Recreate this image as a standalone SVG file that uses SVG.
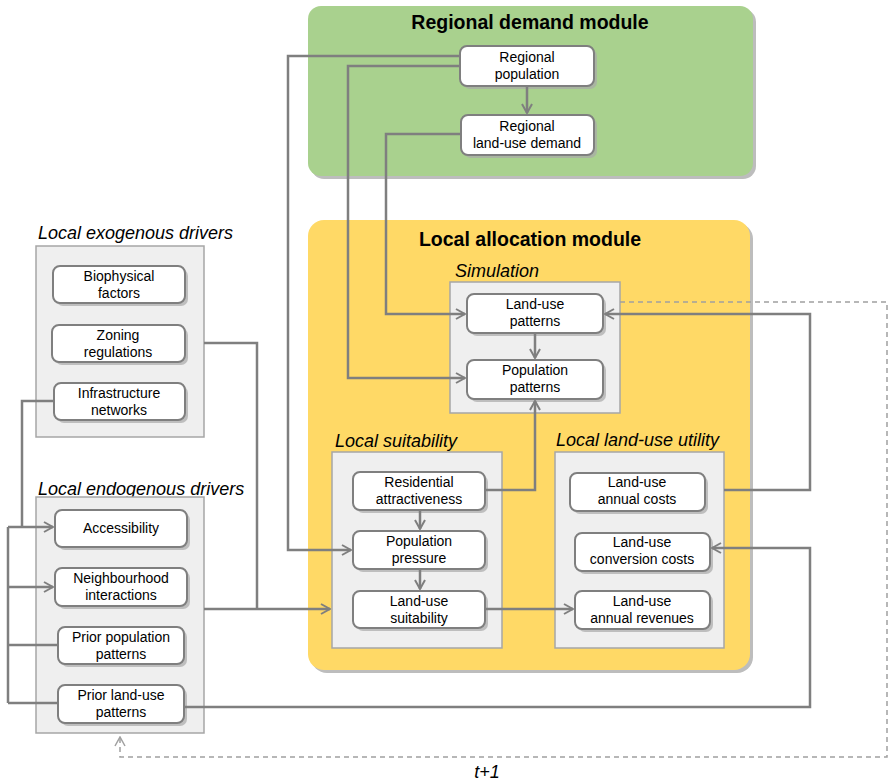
<svg xmlns="http://www.w3.org/2000/svg" width="889" height="783" viewBox="0 0 889 783">
<style>
.mod{stroke:none}
.sh{fill:#bdbdbd}
.cont{fill:#efefef;stroke:#a6a6a6;stroke-width:1.5}
.node{fill:#ffffff;stroke:#7f7f7f;stroke-width:2}
.nsh{fill:#a9a9a9;opacity:0.7}
.nt{font-family:"Liberation Sans",Arial,sans-serif;font-size:14px;fill:#000;text-anchor:middle}
.title{font-family:"Liberation Sans",Arial,sans-serif;font-size:19.5px;font-weight:bold;fill:#000;text-anchor:middle}
.lab{font-family:"Liberation Sans",Arial,sans-serif;font-size:18px;font-style:italic;fill:#000}
.c{fill:none;stroke:#7f7f7f;stroke-width:2.5}
.d{fill:none;stroke:#a0a0a0;stroke-width:1.5;stroke-dasharray:5 4}
</style>
<defs>
<marker id="arr" viewBox="0 0 12 12" refX="11" refY="6" markerWidth="12" markerHeight="12" markerUnits="userSpaceOnUse" orient="auto">
<path d="M2,1 L11,6 L2,11" fill="none" stroke="#7f7f7f" stroke-width="2"/>
</marker>
<marker id="arrd" viewBox="0 0 12 12" refX="11" refY="6" markerWidth="12" markerHeight="12" markerUnits="userSpaceOnUse" orient="auto">
<path d="M2,1 L11,6 L2,11" fill="none" stroke="#a0a0a0" stroke-width="1.5"/>
</marker>
</defs>
<rect width="889" height="783" fill="#ffffff"/>

<g id="regional-demand-module">
<rect class="sh" x="311" y="9" width="445" height="170" rx="13"/>
<rect x="308" y="6" width="445" height="170" rx="13" fill="#a9d18e"/>
<text class="title" x="530" y="29">Regional demand module</text>
</g>

<g id="local-allocation-module">
<rect class="sh" x="311" y="223" width="442" height="450" rx="16"/>
<rect x="308" y="220" width="442" height="450" rx="16" fill="#ffd966"/>
<text class="title" x="530" y="246">Local allocation module</text>
</g>

<g id="simulation">
<text class="lab" x="455" y="277">Simulation</text>
<rect class="cont" x="450" y="282" width="170" height="131"/>
</g>
<g id="local-suitability">
<text class="lab" x="335" y="447">Local suitability</text>
<rect class="cont" x="332" y="452" width="170" height="196"/>
</g>
<g id="local-land-use-utility">
<text class="lab" x="556" y="446">Local land-use utility</text>
<rect class="cont" x="555" y="452" width="169" height="196"/>
</g>
<g id="local-exogenous-drivers">
<text class="lab" x="38" y="239">Local exogenous drivers</text>
<rect class="cont" x="36" y="246" width="168" height="191"/>
</g>
<g id="local-endogenous-drivers">
<text class="lab" x="38" y="495">Local endogenous drivers</text>
<rect class="cont" x="36" y="497" width="168" height="236"/>
</g>

<g id="regional-population">
<rect class="nsh" x="463" y="49" width="134" height="40" rx="7"/>
<rect class="node" x="460" y="46" width="134" height="40" rx="7"/>
<text class="nt" x="527" y="62">Regional</text>
<text class="nt" x="527" y="79">population</text>
</g>
<g id="regional-land-use-demand">
<rect class="nsh" x="464" y="118" width="133" height="40" rx="7"/>
<rect class="node" x="461" y="115" width="133" height="40" rx="7"/>
<text class="nt" x="527" y="131">Regional</text>
<text class="nt" x="527" y="148">land-use demand</text>
</g>
<g id="land-use-patterns">
<rect class="nsh" x="470" y="297" width="136" height="39" rx="7"/>
<rect class="node" x="467" y="294" width="136" height="39" rx="7"/>
<text class="nt" x="535" y="309">Land-use</text>
<text class="nt" x="535" y="326">patterns</text>
</g>
<g id="population-patterns">
<rect class="nsh" x="470" y="363" width="136" height="39" rx="7"/>
<rect class="node" x="467" y="360" width="136" height="39" rx="7"/>
<text class="nt" x="535" y="375">Population</text>
<text class="nt" x="535" y="392">patterns</text>
</g>
<g id="residential-attractiveness">
<rect class="nsh" x="356" y="475" width="132" height="38" rx="7"/>
<rect class="node" x="353" y="472" width="132" height="38" rx="7"/>
<text class="nt" x="419" y="487">Residential</text>
<text class="nt" x="419" y="504">attractiveness</text>
</g>
<g id="population-pressure">
<rect class="nsh" x="356" y="534" width="132" height="38" rx="7"/>
<rect class="node" x="353" y="531" width="132" height="38" rx="7"/>
<text class="nt" x="419" y="546">Population</text>
<text class="nt" x="419" y="563">pressure</text>
</g>
<g id="land-use-suitability">
<rect class="nsh" x="356" y="594" width="132" height="37" rx="7"/>
<rect class="node" x="353" y="591" width="132" height="37" rx="7"/>
<text class="nt" x="419" y="606">Land-use</text>
<text class="nt" x="419" y="623">suitability</text>
</g>
<g id="land-use-annual-costs">
<rect class="nsh" x="573" y="476" width="135" height="38" rx="7"/>
<rect class="node" x="570" y="473" width="135" height="38" rx="7"/>
<text class="nt" x="637" y="487">Land-use</text>
<text class="nt" x="637" y="504">annual costs</text>
</g>
<g id="land-use-conversion-costs">
<rect class="nsh" x="578" y="536" width="135" height="38" rx="7"/>
<rect class="node" x="575" y="533" width="135" height="38" rx="7"/>
<text class="nt" x="642" y="547">Land-use</text>
<text class="nt" x="642" y="564">conversion costs</text>
</g>
<g id="land-use-annual-revenues">
<rect class="nsh" x="578" y="594" width="135" height="38" rx="7"/>
<rect class="node" x="575" y="591" width="135" height="38" rx="7"/>
<text class="nt" x="642" y="606">Land-use</text>
<text class="nt" x="642" y="623">annual revenues</text>
</g>
<g id="biophysical-factors">
<rect class="nsh" x="56" y="269" width="132" height="37" rx="7"/>
<rect class="node" x="53" y="266" width="132" height="37" rx="7"/>
<text class="nt" x="119" y="281">Biophysical</text>
<text class="nt" x="119" y="298">factors</text>
</g>
<g id="zoning-regulations">
<rect class="nsh" x="55" y="328" width="133" height="37" rx="7"/>
<rect class="node" x="52" y="325" width="133" height="37" rx="7"/>
<text class="nt" x="118" y="340">Zoning</text>
<text class="nt" x="118" y="357">regulations</text>
</g>
<g id="infrastructure-networks">
<rect class="nsh" x="57" y="386" width="131" height="37" rx="7"/>
<rect class="node" x="54" y="383" width="131" height="37" rx="7"/>
<text class="nt" x="119" y="398">Infrastructure</text>
<text class="nt" x="119" y="415">networks</text>
</g>
<g id="accessibility">
<rect class="nsh" x="58" y="513" width="132" height="37" rx="7"/>
<rect class="node" x="55" y="510" width="132" height="37" rx="7"/>
<text class="nt" x="121" y="533">Accessibility</text>
</g>
<g id="neighbourhood-interactions">
<rect class="nsh" x="58" y="571" width="132" height="38" rx="7"/>
<rect class="node" x="55" y="568" width="132" height="38" rx="7"/>
<text class="nt" x="121" y="583">Neighbourhood</text>
<text class="nt" x="121" y="600">interactions</text>
</g>
<g id="prior-population-patterns">
<rect class="nsh" x="61" y="630" width="126" height="37" rx="7"/>
<rect class="node" x="58" y="627" width="126" height="37" rx="7"/>
<text class="nt" x="121" y="642">Prior population</text>
<text class="nt" x="121" y="659">patterns</text>
</g>
<g id="prior-land-use-patterns">
<rect class="nsh" x="61" y="688" width="126" height="38" rx="7"/>
<rect class="node" x="58" y="685" width="126" height="38" rx="7"/>
<text class="nt" x="121" y="700">Prior land-use</text>
<text class="nt" x="121" y="717">patterns</text>
</g>

<g id="connectors">
<path class="c" d="M527,86 V113" marker-end="url(#arr)"/>
<path class="c" d="M460,56 H288 V550 H351" marker-end="url(#arr)"/>
<path class="c" d="M460,66 H348 V378 H465" marker-end="url(#arr)"/>
<path class="c" d="M461,134 H386 V314 H465" marker-end="url(#arr)"/>
<path class="c" d="M535,333 V358" marker-end="url(#arr)"/>
<path class="c" d="M485,490 H535 V401" marker-end="url(#arr)"/>
<path class="c" d="M420,510 V529" marker-end="url(#arr)"/>
<path class="c" d="M420,569 V589" marker-end="url(#arr)"/>
<path class="c" d="M485,609 H573" marker-end="url(#arr)"/>
<path class="c" d="M724,490 H810 V314 H605" marker-end="url(#arr)"/>
<path class="c" d="M184,707 H810 V548 H712" marker-end="url(#arr)"/>
<path class="c" d="M204,343 H257 V609"/>
<path class="c" d="M204,609 H330" marker-end="url(#arr)"/>
<path class="c" d="M54,401 H22 V527"/>
<path class="c" d="M8,527 V703"/>
<path class="c" d="M8,527 H53" marker-end="url(#arr)"/>
<path class="c" d="M8,587 H53" marker-end="url(#arr)"/>
<path class="c" d="M58,645 H8"/>
<path class="c" d="M58,703 H8"/>
<path class="d" d="M620,302 H887 V757 H120 V737" marker-end="url(#arrd)"/>
</g>
<text class="lab" x="487" y="778" text-anchor="middle">t+1</text>
</svg>
